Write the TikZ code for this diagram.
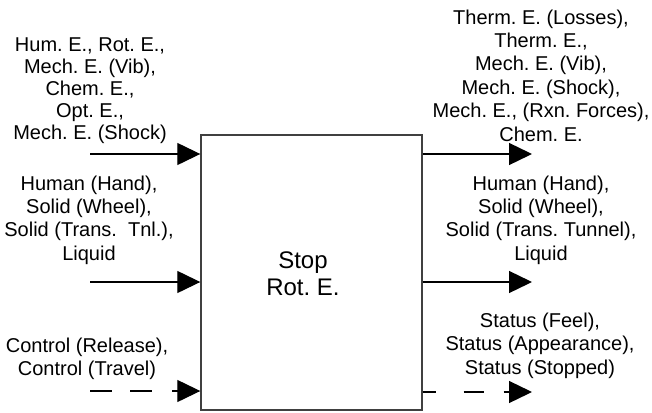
\documentclass[tikz,border=0pt]{standalone}
\usepackage{fontspec}
\setmainfont{Liberation Sans}
\usetikzlibrary{arrows.meta}
\begin{document}
\begin{tikzpicture}[x=1pt,y=-1pt,
  lbl/.style={align=center,inner sep=0pt,font=\fontsize{20}{23}\selectfont},
  blk/.style={draw=black!75,line width=1.4pt,fill=white,minimum width=221pt,minimum height=275pt,inner sep=0pt},
  flow/.style={line width=1.3pt,-{Triangle[length=23pt,width=22pt]}},
  sig/.style={flow}]
\useasboundingbox (0,0) rectangle (652,412);
\node[blk] (box) at (311.5,272.5) {};
\node[lbl,font=\fontsize{24}{27}\selectfont] (title) at (303,273.5) {Stop\\Rot.\ E.};
% left labels
\node[lbl,font=\fontsize{20}{22}\selectfont] (li1) at (90,91) {Hum.\ E., Rot.\ E.,\\Mech.\ E. (Vib),\\Chem.\ E.,\\Opt.\ E.,\\Mech.\ E. (Shock)};
\node[lbl,font=\fontsize{20}{23.3}\selectfont] (li2) at (89,220) {Human (Hand),\\Solid (Wheel),\\Solid (Trans.\ \ Tnl.),\\Liquid};
\node[lbl] (li3) at (87,358.5) {Control (Release),\\Control (Travel)};
% right labels
\node[lbl,font=\fontsize{20}{23.4}\selectfont] (ro1) at (541,75.5) {Therm.\ E. (Losses),\\Therm.\ E.,\\Mech.\ E. (Vib),\\Mech.\ E. (Shock),\\Mech.\ E., (Rxn.\ Forces),\\Chem.\ E.};
\node[lbl,font=\fontsize{20}{23.3}\selectfont] (ro2) at (541,220) {Human (Hand),\\Solid (Wheel),\\Solid (Trans.\ Tunnel),\\Liquid};
\node[lbl,font=\fontsize{20}{23.5}\selectfont] (ro3) at (540,345.5) {Status (Feel),\\Status (Appearance),\\Status (Stopped)};
% connector ends
\coordinate (i1) at (90,154);
\coordinate (i2) at (90,282);
\coordinate (i3) at (90,391);
\coordinate (o1) at (532,154);
\coordinate (o2) at (532,282);
\coordinate (o3) at (532,392);
\draw[flow] (i1) -- (i1 -| box.west);
\draw[flow] (i2) -- (i2 -| box.west);
\draw[flow,dash pattern=on 22pt off 18pt on 22pt off 20pt] (i3) -- (i3 -| box.west);
\draw[flow] (o1 -| box.east) -- (o1);
\draw[flow] (o2 -| box.east) -- (o2);
\draw[flow,dash pattern=on 13pt off 28pt on 20pt off 20pt] (o3 -| box.east) -- (o3);
\end{tikzpicture}
\end{document}
